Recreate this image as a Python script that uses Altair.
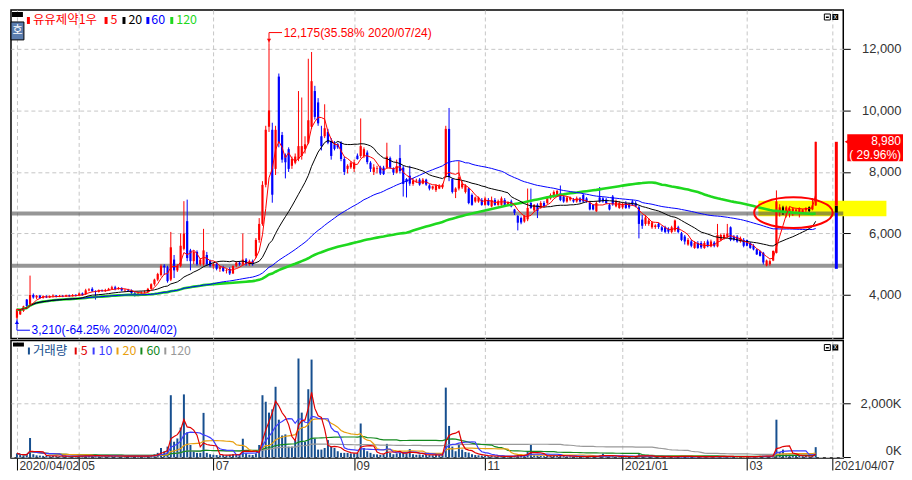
import altair as alt
import numpy as np
import pandas as pd

# ---------------------------------------------------------------- data
# daily candles (open, high, low, close), one list per month
apr_2020 = [
    (3260, 3560, 3210, 3530), (3370, 3520, 3350, 3500), (3480, 3650, 3450, 3630),
    (3850, 3870, 3600, 3640), (3680, 4630, 3650, 4000), (4000, 4050, 3880, 3920),
    (3920, 4000, 3870, 3980), (3980, 4000, 3880, 3900), (3900, 3990, 3880, 3950),
    (3950, 3990, 3900, 3920), (3920, 3990, 3900, 3960), (3960, 4020, 3920, 3980),
    (3980, 4000, 3920, 3940), (3940, 4000, 3930, 3970), (3970, 4000, 3930, 3950),
    (3950, 4010, 3940, 3990), (3990, 4010, 3940, 3960), (3960, 4030, 3950, 4000),
    (4000, 4030, 3950, 3980),
]
may_2020 = [
    (3980, 4080, 3970, 4050), (4050, 4080, 3980, 4000), (4020, 4200, 4000, 4150),
    (4150, 4220, 4120, 4180), (4200, 4250, 4100, 4120), (4120, 4150, 3850, 4100),
    (4100, 4180, 4080, 4150), (4150, 4180, 4100, 4130), (4130, 4200, 4100, 4160),
    (4160, 4230, 4140, 4200), (4200, 4300, 4180, 4250), (4250, 4300, 4150, 4200),
    (4200, 4260, 4170, 4230), (4230, 4250, 4120, 4150), (4150, 4200, 4100, 4160),
    (4160, 4200, 4100, 4140), (4140, 4180, 4000, 4060), (4060, 4100, 3950, 4000),
    (4000, 4080, 3960, 4050),
]
jun_2020 = [
    (4050, 4120, 4030, 4080), (4080, 4150, 4050, 4100), (4100, 4230, 4080, 4200),
    (4200, 4380, 4180, 4350), (4350, 4530, 4300, 4500), (4500, 4720, 4450, 4680),
    (4650, 5000, 4600, 4950), (4950, 5000, 4650, 4900), (4900, 4950, 4400, 4450),
    (4500, 6050, 4450, 5550), (5150, 5300, 4550, 4800), (4800, 5000, 4750, 4950),
    (4950, 6000, 4900, 5600), (5500, 7050, 5450, 6000), (6400, 7100, 5100, 5200),
    (5450, 5500, 4800, 5100), (5100, 5450, 5000, 5400), (5400, 5450, 4950, 5000),
    (5000, 5200, 4950, 5150), (5000, 6150, 4950, 5450), (5300, 5400, 4950, 5000),
    (5100, 5150, 4900, 4950),
]
jul_2020 = [
    (4950, 5050, 4850, 5000), (5000, 5050, 4800, 4850), (4850, 4950, 4750, 4900),
    (4900, 4950, 4750, 4780), (4780, 4850, 4700, 4800), (4850, 4900, 4650, 4700),
    (4700, 4950, 4680, 4950), (4950, 5100, 4900, 5050), (5050, 5100, 4950, 5000),
    (5000, 6000, 4950, 5150), (5150, 5200, 4950, 5000), (5000, 5150, 4950, 5100),
    (5100, 5150, 4950, 5000), (5260, 5850, 5200, 5790), (5790, 6500, 5700, 6310),
    (6310, 7700, 6250, 7580), (7580, 9500, 7500, 9370), (9470, 12175, 9300, 10000),
    (9370, 9600, 7000, 7260), (8100, 9500, 7900, 9370), (11100, 11200, 8800, 8950),
    (9200, 9300, 8300, 8400), (8530, 8600, 7790, 8315),
]
aug_2020 = [
    (8740, 8800, 8000, 8100), (8200, 8500, 8100, 8420), (8300, 8600, 8250, 8500),
    (8420, 10630, 8350, 8840), (8520, 10420, 8400, 8840), (8740, 9160, 8600, 8900),
    (8950, 11680, 8900, 9680), (9470, 11900, 9400, 10950), (10630, 10800, 9700, 9790),
    (10260, 10400, 9500, 9580), (9160, 9500, 8700, 8840), (9160, 10200, 9100, 9420),
    (9300, 9400, 8900, 8950), (9000, 9100, 8400, 8520), (8900, 9000, 8700, 8750),
    (8900, 8950, 8750, 8800), (8940, 9000, 8350, 8420), (8420, 8500, 7900, 8000),
    (8100, 8250, 7950, 8200), (8150, 8350, 8100, 8300),
]
sep_2020 = [
    (8100, 8400, 8000, 8310), (8530, 8600, 8400, 8420), (8520, 9740, 8450, 8840),
    (8520, 8800, 8450, 8740), (8630, 8700, 8250, 8320), (8300, 8350, 8000, 8100),
    (8000, 8250, 7900, 8150), (8100, 8200, 7950, 8120), (8150, 8200, 7900, 7950),
    (8140, 8200, 7900, 7930), (8140, 8950, 8100, 8500), (8450, 8500, 8100, 8140),
    (8100, 8150, 7900, 7980), (7980, 8400, 7950, 8190), (8450, 8880, 7950, 8030),
    (8140, 8200, 7200, 7610), (7770, 7800, 7170, 7670), (7880, 8200, 7550, 7620),
    (7610, 7800, 7550, 7720), (7700, 7780, 7650, 7720), (7750, 7800, 7550, 7590),
]
oct_2020 = [
    (7620, 7800, 7600, 7750), (7750, 7780, 7550, 7590), (7560, 7600, 7400, 7460),
    (7460, 7550, 7420, 7530), (7410, 7600, 7350, 7560), (7460, 7600, 7440, 7560),
    (7500, 7620, 7450, 7580), (7880, 9500, 7800, 9400), (9400, 10080, 7700, 7830),
    (7770, 7800, 7300, 7350), (7350, 7500, 7150, 7460), (7460, 8350, 7400, 7830),
    (7500, 7700, 7450, 7620), (7350, 7600, 7300, 7560), (7460, 7500, 6950, 6990),
    (7250, 7300, 6900, 6930), (7040, 7200, 7000, 7170), (7040, 7200, 7000, 7170),
    (7090, 7150, 6900, 6930),
]
nov_2020 = [
    (6930, 7200, 6900, 7140), (7090, 7150, 6900, 6930), (6880, 7200, 6850, 7090),
    (7090, 7150, 6900, 6930), (6930, 7100, 6900, 7040), (6930, 7200, 6900, 7140),
    (7090, 7150, 6900, 6930), (6930, 7050, 6900, 7000), (7040, 7100, 6850, 6880),
    (6780, 6800, 6600, 6670), (6570, 6600, 6100, 6350), (6500, 6550, 6300, 6360),
    (6390, 6600, 6350, 6570), (6460, 7460, 6400, 6830), (6990, 7460, 6800, 6830),
    (6750, 6950, 6700, 6930), (6930, 6980, 6500, 6720), (6830, 7050, 6800, 6990),
    (6990, 7050, 6850, 6880), (6990, 7200, 6950, 7140), (7140, 7300, 7100, 7250),
]
dec_2020 = [
    (7200, 7400, 7150, 7350), (7250, 7420, 7200, 7380), (7300, 7560, 7050, 7090),
    (7200, 7250, 7000, 7040), (7040, 7200, 7000, 7170), (7100, 7200, 7050, 7170),
    (7090, 7150, 7000, 7040), (7040, 7200, 7000, 7140), (7140, 7180, 7000, 7040),
    (7250, 7300, 7000, 7040), (7140, 7180, 7000, 7040), (6990, 7050, 6750, 6780),
    (6930, 6950, 6750, 6780), (6720, 7050, 6700, 6990), (7170, 7510, 7000, 7040),
    (7140, 7180, 7000, 7040), (7100, 7150, 6950, 6990), (6930, 6980, 6750, 6780),
    (7200, 7250, 6900, 6950), (6880, 7100, 6850, 7040), (6830, 7050, 6800, 6990),
]
jan_2021 = [
    (6850, 7000, 6800, 6950), (6990, 7050, 6800, 6830), (6950, 7000, 6800, 6850),
    (7040, 7100, 6900, 6940), (6990, 7050, 6850, 6880), (6850, 6900, 5840, 6310),
    (6450, 6600, 6150, 6250), (6310, 6600, 6250, 6520), (6310, 6500, 6250, 6420),
    (6200, 6400, 6150, 6360), (6210, 6300, 6150, 6260), (6310, 6350, 6150, 6210),
    (6200, 6250, 6050, 6100), (6200, 6250, 6000, 6050), (6150, 6200, 6000, 6060),
    (6050, 6250, 6000, 6200), (6100, 6450, 6050, 6420), (6200, 6250, 6000, 6050),
    (6000, 6050, 5750, 5790), (5900, 5950, 5640, 5740),
]
feb_2021 = [
    (5640, 5850, 5600, 5790), (5740, 5800, 5550, 5600), (5530, 5750, 5500, 5690),
    (5690, 5750, 5500, 5530), (5690, 5750, 5500, 5550), (5530, 5750, 5500, 5690),
    (5740, 5800, 5550, 5580), (5580, 5800, 5550, 5740), (5700, 5750, 5550, 5600),
    (5580, 6310, 5550, 5950), (5790, 6000, 5750, 5950), (5840, 6000, 5800, 5950),
    (5900, 6310, 5850, 6000), (6200, 6230, 5750, 5790), (5890, 5950, 5750, 5790),
    (5900, 5950, 5700, 5740), (5740, 5900, 5700, 5840), (5790, 5850, 5550, 5600),
]
mar_2021 = [
    (5790, 5800, 5580, 5600), (5690, 5720, 5500, 5530), (5600, 5650, 5450, 5480),
    (5480, 5500, 5300, 5320), (5420, 5450, 5250, 5270), (5370, 5400, 4990, 5060),
    (4960, 5150, 4930, 5120), (5000, 5150, 4950, 5100), (5120, 5450, 5100, 5430),
    (5370, 7400, 5350, 7040), (6680, 6950, 6550, 6850), (6730, 6900, 6600, 6850),
    (6680, 6900, 6520, 6850), (6680, 6850, 6520, 6800), (6730, 6850, 6570, 6810),
    (6730, 6800, 6700, 6780), (6680, 6850, 6520, 6810), (6680, 6800, 6650, 6780),
    (6750, 6850, 6700, 6830), (6730, 6880, 6700, 6850), (6780, 7150, 6750, 6910),
    (6910, 8980, 6900, 8980),
]
black_days = [234, 242]          # candles drawn in black

# daily volume, thousands of shares
vol_apr = [150, 90, 80, 100, 717, 120, 80, 70, 60, 60, 50, 60, 50, 50, 40, 50, 40, 50, 40]
vol_may = [60, 50, 80, 60, 50, 90, 50, 40, 50, 60, 70, 50, 40, 50, 40, 60, 60, 50, 40]
vol_jun = [40, 50, 60, 90, 120, 170, 350, 230, 400, 2290, 580, 700, 1100, 2320, 925, 460,
           230, 170, 170, 1640, 170, 120]
vol_jul = [100, 90, 80, 90, 80, 100, 120, 110, 90, 690, 150, 100, 90, 150, 460, 2290, 2050,
           1650, 1770, 2600, 1390, 810, 850]
vol_aug = [400, 400, 640, 3640, 1650, 580, 2510, 3600, 690, 290, 290, 350, 640, 400, 350,
           230, 170, 170, 170, 150]
vol_sep = [150, 170, 1250, 350, 230, 170, 120, 115, 100, 120, 500, 170, 120, 150, 170, 200,
           150, 310, 120, 100, 110]
vol_oct = [100, 100, 90, 80, 100, 90, 110, 2570, 1160, 400, 230, 460, 290, 200, 180, 120, 90,
           80, 70]
vol_nov = [60, 50, 50, 40, 40, 50, 40, 40, 50, 60, 120, 80, 70, 200, 460, 80, 70, 60, 50, 60, 70]
vol_dec = [80, 60, 90, 50, 40, 40, 30, 40, 30, 40, 30, 50, 40, 40, 80, 140, 40, 40, 60, 40, 40]
vol_jan = [40, 30, 30, 40, 30, 120, 60, 50, 40, 30, 30, 30, 30, 30, 30, 40, 30, 40, 50, 40]
vol_feb = [30, 30, 30, 30, 25, 30, 30, 30, 30, 60, 40, 30, 40, 50, 30, 30, 30, 30]
vol_mar = [30, 30, 40, 40, 60, 60, 50, 50, 80, 1390, 200, 290, 140, 100, 80, 60, 60, 50, 60,
           40, 50, 380]

tick_index = [0, 19, 60, 103, 143, 185, 223, 249]
tick_text = ["2020/04/02", "05", "07", "09", "11", "2021/01", "03", "2021/04/07"]
price_ticks = [4000, 6000, 8000, 10000, 12000]
volume_ticks = [0, 2000000]

support_levels = [6650, 4950]
zone_index = [226.5, 265.6]          # yellow highlight (days)
zone_price = [6560, 7065]
circle_center = (237.2, 6675)
hi_date, lo_date = "2020/07/24", "2020/04/02"
limit_marker = [4850, 6680, 6900, 8980]   # blue / black / red bar at the right edge

price_ma = [(120, "#1ed81e", 2.6), (60, "#0000ff", 1.0), (20, "#000000", 1.0), (5, "#ff0000", 1.0)]
volume_ma = [(120, "#999999"), (60, "#14891e"), (20, "#e8a010"), (10, "#3c3cff"), (5, "#e00000")]

# ---------------------------------------------------------------- frame
candles = (apr_2020 + may_2020 + jun_2020 + jul_2020 + aug_2020 + sep_2020 + oct_2020 +
           nov_2020 + dec_2020 + jan_2021 + feb_2021 + mar_2021)
volumes = (vol_apr + vol_may + vol_jun + vol_jul + vol_aug + vol_sep + vol_oct + vol_nov +
           vol_dec + vol_jan + vol_feb + vol_mar)

df = pd.DataFrame(candles, columns=["open", "high", "low", "close"])
df["i"] = np.arange(len(df))
df["volume"] = np.array(volumes) * 1000
df["dir"] = np.where(df["close"] > df["open"], "up", "down")
df.loc[df["i"].isin(black_days), "dir"] = "flat"
for n, _, _ in price_ma:
    df[f"ma{n}"] = df["close"].rolling(n, min_periods=1).mean()
for n, _ in volume_ma:
    df[f"vma{n}"] = df["volume"].rolling(n, min_periods=1).mean()

# ---------------------------------------------------------------- layout
W, H_TOP, H_VOL = 836, 330, 118
X_DOM = [-0.3, 250.9]
P_DOM = [2583, 13264]
V_DOM = [-20000, 4300000]
WON_PER_PX = (P_DOM[1] - P_DOM[0]) / H_TOP
DAY_PER_PX = (X_DOM[1] - X_DOM[0]) / W

NUM_FONT = "Liberation Sans, Arial, sans-serif"
KR_FONT = "Noto Sans CJK KR"
GRID = "#c6c6c6"

xs = alt.Scale(domain=X_DOM, nice=False, zero=False)
ys = alt.Scale(domain=P_DOM, nice=False, zero=False)
vs = alt.Scale(domain=V_DOM, nice=False, zero=False)

top_x_axis = alt.Axis(values=tick_index, labels=False, ticks=False, domain=False, title=None,
                      grid=True, gridColor=GRID, gridDash=[4, 3])
expr = " : ".join(f"datum.value == {v} ? '{t}'" for v, t in zip(tick_index, tick_text)) + " : ''"
bot_x_axis = alt.Axis(values=tick_index, labelExpr=expr, title=None, domain=False,
                      grid=True, gridColor=GRID, gridDash=[4, 3],
                      tickSize=12, tickColor="#000000", labelAlign="left", labelBaseline="top",
                      labelPadding=-9, labelOffset=2, labelOverlap=False,
                      labelFont=NUM_FONT, labelFontSize=12, labelColor="#333333")
price_axis = alt.Axis(orient="right", values=price_ticks, labelExpr="format(datum.value, ',')",
                      title=None, domain=False,
                      grid=True, gridColor=GRID, gridDash=[4, 3], tickSize=7,
                      tickColor="#000000", labelAlign="right", labelPadding=51,
                      labelFont=NUM_FONT, labelFontSize=13, labelColor="#333333")
vol_axis = alt.Axis(orient="right", values=volume_ticks, title=None, domain=False,
                    labelExpr="format(datum.value / 1000, ',') + 'K'",
                    grid=True, gridColor=GRID, gridDash=[4, 3], tickSize=7,
                    tickColor="#000000", labelAlign="right", labelPadding=51,
                    labelBaseline={"condition": {"test": "datum.value == 0", "value": "bottom"},
                                   "value": "middle"},
                    labelFont=NUM_FONT, labelFontSize=13, labelColor="#333333")


def XT(f):
    return alt.X(f"{f}:Q", scale=xs, axis=top_x_axis)


def XB(f):
    return alt.X(f"{f}:Q", scale=xs, axis=bot_x_axis)


def YP(f):
    return alt.Y(f"{f}:Q", scale=ys, axis=price_axis)


def YV(f):
    return alt.Y(f"{f}:Q", scale=vs, axis=vol_axis)


ONE = pd.DataFrame({"k": [0]})


def px_rect(x1, y1, x2, y2, fill, stroke=None):
    kw = dict(fill=fill, strokeWidth=1, stroke=stroke) if stroke else dict(fill=fill, strokeWidth=0)
    return alt.Chart(ONE).mark_rect(**kw).encode(
        x=alt.value(x1), x2=alt.value(x2), y=alt.value(y1), y2=alt.value(y2))


def px_text(txt, x, y, color, size, font=KR_FONT, align="left"):
    return alt.Chart(ONE).mark_text(text=txt, align=align, baseline="middle", color=color,
                                    fontSize=size, font=font).encode(
        x=alt.value(x), y=alt.value(y))


def icons(y0):
    return [
        px_rect(W - 19, y0, W - 13, y0 + 6, "#ffffff", "#000000"),
        px_rect(W - 17.5, y0 + 2.5, W - 14.5, y0 + 4, "#000000"),
        px_rect(W - 11, y0, W - 5, y0 + 6, "#000000"),
        px_text("x", W - 8, y0 + 2.6, "#ffffff", 7, NUM_FONT, "center"),
    ]


candle_color = alt.Color("dir:N", scale=alt.Scale(domain=["up", "down", "flat"],
                                                  range=["#ff0000", "#0000ff", "#000000"]),
                         legend=None)

# ---------------------------------------------------------------- price panel
base = alt.Chart(df)
zone = alt.Chart(pd.DataFrame({"x1": [zone_index[0]], "x2": [zone_index[1]],
                               "y1": [zone_price[0]], "y2": [zone_price[1]]})).mark_rect(
    color="#ffff00").encode(x=XT("x1"), x2="x2", y=YP("y1"), y2="y2")
support = alt.Chart(pd.DataFrame({"p": support_levels})).mark_rule(
    color="#505050", strokeWidth=4, opacity=0.6).encode(
    y=YP("p"), x=alt.value(0), x2=alt.value(W))
wicks = base.mark_rule(strokeWidth=1).encode(x=XT("i"), y=YP("low"), y2="high", color=candle_color)
bodies = base.mark_bar(size=2.2).encode(x=XT("i"), y=YP("open"), y2="close", color=candle_color)
ma_lines = [base.mark_line(color=c, strokeWidth=w).encode(x=XT("i"), y=YP(f"ma{n}"))
            for n, c, w in price_ma]

mk = pd.DataFrame({"x": [250.3] * 3, "y1": limit_marker[:3], "y2": limit_marker[1:],
                   "c": ["#0000ff", "#000000", "#ff0000"]})
marker = alt.Chart(mk).mark_rule(strokeWidth=3).encode(
    x=XT("x"), y=YP("y1"), y2="y2", color=alt.Color("c:N", scale=None))

hi_i = int(df["high"].idxmax())
hi_v = float(df["high"].max())
lo_i = int(df["low"].idxmin())
lo_v = float(df["low"].min())
cur = float(df["close"].iloc[-1])
prev = float(df["close"].iloc[-2])
hi_txt = f"{hi_v:,.0f}({(hi_v - cur) / cur * 100:.2f}% {hi_date})"
lo_txt = f"{lo_v:,.0f}({(lo_v - cur) / cur * 100:.2f}% {lo_date})"
chg_txt = f"( {(cur - prev) / prev * 100:.2f}%)"

hi_y = hi_v + 11 * WON_PER_PX
lo_y = lo_v - 11 * WON_PER_PX
step = 4 * DAY_PER_PX * 3.3


def connector(i0, v0, ylev, color, shape):
    seg = pd.DataFrame({"x1": [i0, i0], "x2": [i0, i0 + step],
                        "y1": [v0, ylev], "y2": [ylev, ylev]})
    lines = alt.Chart(seg).mark_rule(color=color, strokeWidth=1).encode(
        x=XT("x1"), x2="x2", y=YP("y1"), y2="y2")
    off = 3 if shape == "triangle-down" else -3
    tip = alt.Chart(pd.DataFrame({"x": [i0], "y": [v0 + off * WON_PER_PX]})).mark_point(
        shape=shape, filled=True, color=color, size=18, opacity=1).encode(
        x=XT("x"), y=YP("y"))
    return [lines, tip]


ann_df = pd.DataFrame({"x": [hi_i + step + 0.5, lo_i + step + 0.5], "y": [hi_y, lo_y],
                       "t": [hi_txt, lo_txt], "c": ["#ff0000", "#0000ff"]})
ann_text = alt.Chart(ann_df).mark_text(align="left", baseline="middle", font=NUM_FONT,
                                       fontSize=12).encode(
    x=XT("x"), y=YP("y"), text="t:N", color=alt.Color("c:N", scale=None))

ellipse = alt.Chart(pd.DataFrame({"x": [circle_center[0]], "y": [circle_center[1]]})).mark_point(
    shape="M-1,0A1,0.39,0,1,1,1,0A1,0.39,0,1,1,-1,0Z", size=6241, filled=False,
    color="#ff0000", strokeWidth=2, opacity=1).encode(x=XT("x"), y=YP("y"))

box = alt.Chart(pd.DataFrame({"y1": [cur + 7.5 * WON_PER_PX], "y2": [cur - 19.5 * WON_PER_PX]})
                ).mark_rect(color="#ff0000").encode(
    x=alt.value(W + 4), x2=alt.value(W + 60), y=YP("y1"), y2="y2")
pointer = alt.Chart(pd.DataFrame({"y": [cur]})).mark_point(
    shape="triangle-left", filled=True, color="#ff0000", size=70, opacity=1).encode(
    x=alt.value(W + 5), y=YP("y"))
box_price = alt.Chart(pd.DataFrame({"y": [cur], "t": [f"{cur:,.0f}"]})).mark_text(
    align="right", baseline="middle", color="#ffffff", font=NUM_FONT, fontSize=12, dy=-1).encode(
    x=alt.value(W + 58), y=YP("y"), text="t:N")
box_chg = alt.Chart(pd.DataFrame({"y": [cur], "t": [chg_txt]})).mark_text(
    align="right", baseline="middle", color="#ffffff", font=NUM_FONT, fontSize=12, dy=13).encode(
    x=alt.value(W + 58), y=YP("y"), text="t:N")

top_legend = [
    px_rect(1, 2, 12, 7, "#000000"),
    px_rect(0, 12, 13, 30, "#5b7dae", "#000000"),
    px_text("호", 6.5, 21, "#ffffff", 11, KR_FONT, "center"),
    px_rect(16, 7, 19, 14, "#ff0000"), px_text("유유제약1우", 22, 10.5, "#ff0000", 12.5),
    px_rect(94, 7, 97, 14, "#ff0000"), px_text("5", 100, 10.5, "#ff0000", 12.5),
    px_rect(112, 7, 115, 14, "#000000"), px_text("20", 118, 10.5, "#000000", 12.5),
    px_rect(136, 7, 139, 14, "#0000ff"), px_text("60", 141, 10.5, "#0000ff", 12.5),
    px_rect(160, 7, 163, 14, "#1ed81e"), px_text("120", 166, 10.5, "#1ed81e", 12.5),
] + icons(4)

top = alt.layer(
    zone, support, wicks, bodies, *ma_lines, marker,
    *connector(hi_i, hi_v, hi_y, "#ff0000", "triangle-down"),
    *connector(lo_i, lo_v, lo_y, "#0000ff", "triangle-up"),
    ann_text, ellipse, box, pointer, box_price, box_chg, *top_legend,
).properties(width=W, height=H_TOP)

# ---------------------------------------------------------------- volume panel
vbase = alt.Chart(df)
vbars = vbase.mark_bar(size=2, color="#174f8f").encode(x=XB("i"), y=YV("volume"))
vlines = [vbase.mark_line(color=c, strokeWidth=1.2).encode(x=XB("i"), y=YV(f"vma{n}"))
          for n, c in volume_ma]
vol_legend = [
    px_rect(2, 2, 13, 6, "#000000"),
    px_rect(17, 7, 19, 14, "#174f8f"), px_text("거래량", 22, 11, "#174f8f", 12.5),
    px_rect(64, 7, 66, 14, "#e00000"), px_text("5", 70, 11, "#e00000", 12.5),
    px_rect(82, 7, 84, 14, "#3c3cff"), px_text("10", 88, 11, "#3c3cff", 12.5),
    px_rect(106, 7, 108, 14, "#e8a010"), px_text("20", 112, 11, "#e8a010", 12.5),
    px_rect(130, 7, 132, 14, "#14891e"), px_text("60", 136, 11, "#14891e", 12.5),
    px_rect(154, 7, 156, 14, "#999999"), px_text("120", 160, 11, "#999999", 12.5),
] + icons(4)

bottom = alt.layer(vbars, *vlines, *vol_legend).properties(width=W, height=H_VOL)

chart = alt.vconcat(top, bottom, spacing=0, padding=0, background="#ffffff").configure_view(
    stroke="#000000", strokeWidth=1.5)

chart.save("out.html", embed_options={"renderer": "svg", "actions": False})
